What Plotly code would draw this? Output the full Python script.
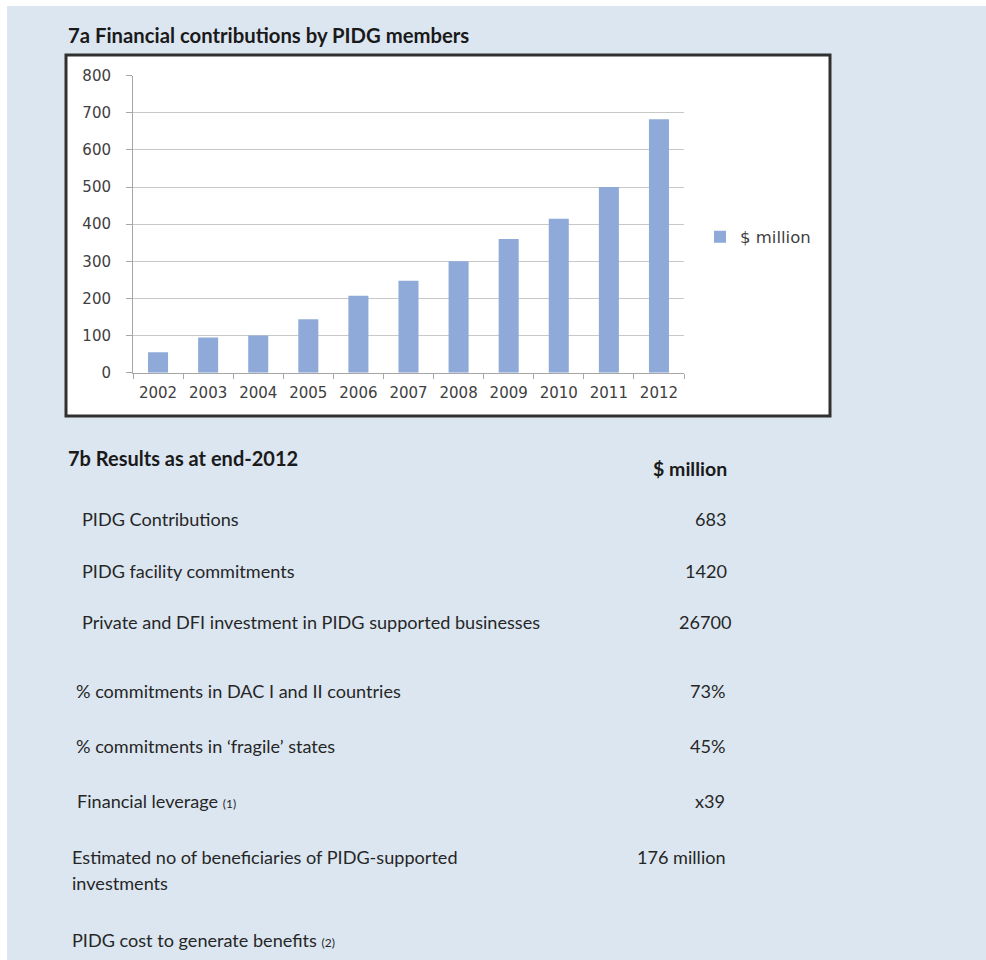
import plotly.graph_objects as go

# ---- data ----
years = ["2002", "2003", "2004", "2005", "2006", "2007", "2008", "2009", "2010", "2011", "2012"]
contributions = [55, 95, 100, 144, 207, 248, 300, 360, 415, 500, 683]
series_name = "$ million"
y_ticks = [0, 100, 200, 300, 400, 500, 600, 700, 800]

chart_title = "7a Financial contributions by PIDG members"
table_title = "7b Results as at end-2012"
table_header = "$ million"
row_labels = [
    "PIDG Contributions",
    "PIDG facility commitments",
    "Private and DFI investment in PIDG supported businesses",
    "% commitments in DAC I and II countries",
    "% commitments in \u2018fragile\u2019 states",
    "Financial leverage <span style='font-size:12px'>(1)</span>",
    "Estimated no of beneficiaries of PIDG-supported",
    "investments",
    "PIDG cost to generate benefits <span style='font-size:12px'>(2)</span>",
]
row_values = ["683", "1420", "26700", "73%", "45%", "x39", "176 million", "", ""]

# ---- layout helpers (pixels -> paper) ----
W, H = 986, 960
px = lambda x: x / W
py = lambda y: 1 - y / H

fig = go.Figure()
fig.add_trace(go.Bar(
    x=years, y=contributions, name=series_name,
    marker=dict(color="#8faad8", line=dict(width=0)),
    showlegend=True,
))

shapes = [
    dict(type="rect", xref="paper", yref="paper", x0=px(7), x1=px(986), y0=py(960), y1=py(6),
         fillcolor="#dce6f1", line=dict(width=0), layer="below"),
    dict(type="rect", xref="paper", yref="paper", x0=px(66), x1=px(830), y0=py(416), y1=py(55),
         fillcolor="white", line=dict(color="#303030", width=3), layer="below"),
]

ann = []
ann.append(dict(text="<b>" + chart_title + "</b>", x=px(66), y=py(35), xanchor="left", yanchor="middle",
                font=dict(family="Lato", size=20.3, color="#1a1a1a")))
ann.append(dict(text="<b>" + table_title + "</b>", x=px(66), y=py(458), xanchor="left", yanchor="middle",
                font=dict(family="Lato", size=20, color="#1a1a1a")))
ann.append(dict(text="<b>" + table_header + "</b>", x=px(729), y=py(468), xanchor="right", yanchor="middle",
                font=dict(family="Lato", size=19.5, color="#1a1a1a")))

row_y = [519, 571, 622, 691, 746, 801, 857, 883, 940]
row_x = [80, 80, 80, 74, 74, 75, 70, 70, 70]
val_x = [728, 729, 733, 728, 728, 727, 728, 728, 728]
for lab, val, yy, xx, vx in zip(row_labels, row_values, row_y, row_x, val_x):
    ann.append(dict(text=lab, x=px(xx), y=py(yy), xanchor="left", yanchor="middle",
                    font=dict(family="Lato", size=18.1, color="#262626")))
    if val:
        ann.append(dict(text=val, x=px(vx), y=py(yy), xanchor="right", yanchor="middle",
                        font=dict(family="Lato", size=18.1, color="#262626")))

for a in ann:
    a.update(xref="paper", yref="paper", showarrow=False)

fig.update_layout(
    width=W, height=H, autosize=False,
    margin=dict(l=0, r=0, t=0, b=0, pad=0, autoexpand=False),
    paper_bgcolor="white",
    plot_bgcolor="rgba(0,0,0,0)",
    bargap=0.6,
    shapes=shapes,
    annotations=ann,
    showlegend=True,
    legend=dict(x=px(700), y=py(237), xanchor="left", yanchor="middle",
                bgcolor="rgba(0,0,0,0)", borderwidth=0,
                font=dict(family="DejaVu Sans", size=16.5, color="#404040")),
    xaxis=dict(
        domain=[px(133), px(684)],
        type="category",
        automargin=False,
        showgrid=False,
        showline=True, linecolor="#a6a6a6", linewidth=1,
        ticks="outside", tickson="boundaries", ticklen=5, tickcolor="#a6a6a6",
        tickfont=dict(family="DejaVu Sans", size=15, color="#404040"),
        ticklabelstandoff=6,
        fixedrange=True,
    ),
    yaxis=dict(
        domain=[py(372.7), py(75.7)],
        range=[0, 800],
        tickvals=y_ticks,
        automargin=False,
        showgrid=True, gridcolor="#c8c8c8", gridwidth=1,
        showline=True, linecolor="#a6a6a6", linewidth=1,
        ticks="outside", ticklen=6, tickcolor="#a6a6a6",
        tickfont=dict(family="DejaVu Sans", size=15, color="#404040"),
        ticklabelstandoff=12,
        zeroline=False,
        fixedrange=True,
    ),
)

fig.write_html("out.html")
